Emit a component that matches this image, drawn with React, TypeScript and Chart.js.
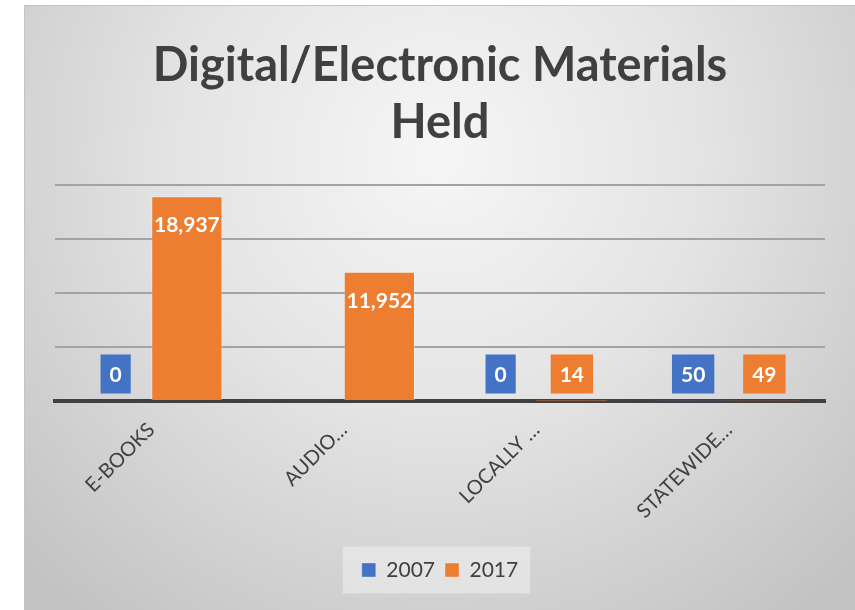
import React, { useEffect, useRef } from 'react';
import { Chart, registerables } from 'chart.js';

Chart.register(...registerables);

const categories = ['E-BOOKS', 'AUDIO…', 'LOCALLY …', 'STATEWIDE…'];
const seriesNames = ['2007', '2017'];
const values2007 = [0, null, 0, 50];
const values2017 = [18937, 11952, 14, 49];
const seriesColors = ['#4472C4', '#ED7D31'];
const titleLines = ['Digital/Electronic Materials', 'Held'];
const yMax = 20000;
const yStep = 5000;

const bgPlugin = {
  id: 'bgGradient',
  beforeDraw(chart: any) {
    const { ctx, width, height } = chart;
    ctx.save();
    const cx = width / 2;
    const cy = 150;
    const g = ctx.createRadialGradient(cx, cy, 0, cx, cy, 580);
    g.addColorStop(0, '#f6f6f6');
    g.addColorStop(0.45, '#e4e4e4');
    g.addColorStop(1, '#c3c3c3');
    ctx.fillStyle = g;
    ctx.fillRect(0, 0, width, height);
    ctx.strokeStyle = '#c4c4c4';
    ctx.lineWidth = 1;
    ctx.beginPath();
    ctx.moveTo(0.5, height);
    ctx.lineTo(0.5, 0.5);
    ctx.lineTo(width, 0.5);
    ctx.stroke();
    const lg = chart.legend;
    if (lg && lg.legendHitBoxes && lg.legendHitBoxes.length) {
      const hb = lg.legendHitBoxes;
      const first = hb[0];
      const last = hb[hb.length - 1];
      const left = first.left - 19;
      const right = last.left + last.width + 12;
      const midY = first.top + first.height / 2;
      ctx.fillStyle = 'rgba(240,240,240,0.55)';
      ctx.fillRect(left, midY - 23.5, right - left, 47);
    }
    ctx.restore();
  },
};

const labelPlugin = {
  id: 'valueLabels',
  afterDatasetsDraw(chart: any) {
    const ctx = chart.ctx;
    const base = chart.scales.y.getPixelForValue(0);
    ctx.save();
    ctx.font = 'bold 21px Lato';
    ctx.textAlign = 'center';
    ctx.textBaseline = 'middle';
    chart.data.datasets.forEach((ds: any, di: number) => {
      const meta = chart.getDatasetMeta(di);
      meta.data.forEach((el: any, i: number) => {
        const v = ds.data[i];
        if (v === null || v === undefined) return;
        const text = Number(v).toLocaleString('en-US');
        const inside = el.y + 28 < base - 27;
        const cy = inside ? el.y + 28 : base - 27;
        if (!inside) {
          const w = ctx.measureText(text).width + 18;
          const h = 39;
          ctx.fillStyle = ds.backgroundColor;
          ctx.fillRect(el.x - w / 2, cy - h / 2, w, h);
        }
        ctx.fillStyle = '#ffffff';
        ctx.fillText(text, el.x, cy + 1);
      });
    });
    ctx.restore();
  },
};

export default function App() {
  const ref = useRef<HTMLCanvasElement | null>(null);

  useEffect(() => {
    if (!ref.current) return;
    const chart = new Chart(ref.current, {
      type: 'bar',
      data: {
        labels: categories,
        datasets: [
          {
            label: seriesNames[0],
            data: values2007,
            backgroundColor: seriesColors[0],
            borderColor: 'rgba(255,255,255,0.3)',
            borderWidth: 1,
            categoryPercentage: 0.74,
            barPercentage: 1,
          },
          {
            label: seriesNames[1],
            data: values2017,
            backgroundColor: seriesColors[1],
            borderColor: 'rgba(255,255,255,0.3)',
            borderWidth: 1,
            categoryPercentage: 0.74,
            barPercentage: 1,
          },
        ],
      },
      options: {
        responsive: false,
        animation: false,
        devicePixelRatio: 1,
        layout: { padding: { left: 31, right: 30, top: 0, bottom: 19.5 } },
        plugins: {
          title: {
            display: true,
            text: titleLines,
            color: '#404040',
            font: { family: 'Lato', size: 47, weight: 'bold', lineHeight: 1.2 },
            padding: { top: 33, bottom: 34 },
          },
          legend: {
            position: 'bottom',
            labels: {
              color: '#404040',
              font: { family: 'Lato', size: 21 },
              boxWidth: 14,
              boxHeight: 14,
              padding: 10,
            },
          },
          tooltip: { enabled: false },
        },
        scales: {
          x: {
            grid: { display: false },
            border: { display: true, color: '#404040', width: 4 },
            ticks: {
              color: '#404040',
              font: { family: 'Lato', size: 20 },
              maxRotation: 45,
              minRotation: 45,
              autoSkip: false,
              padding: 9,
            },
            afterFit: (s: any) => {
              s.height = 148.5;
            },
          },
          y: {
            min: 0,
            max: yMax,
            ticks: { display: false, stepSize: yStep },
            grid: { color: '#a3a3a3', lineWidth: 2, drawTicks: false },
            border: { display: false },
          },
        },
      },
      plugins: [bgPlugin, labelPlugin],
    });
    return () => chart.destroy();
  }, []);

  return (
    <div style={{ position: 'absolute', left: 0, top: 0, width: 855, height: 610, background: '#ffffff' }}>
      <canvas
        ref={ref}
        width={831}
        height={605}
        style={{ position: 'absolute', left: 24, top: 5, width: 831, height: 605 }}
      />
    </div>
  );
}
